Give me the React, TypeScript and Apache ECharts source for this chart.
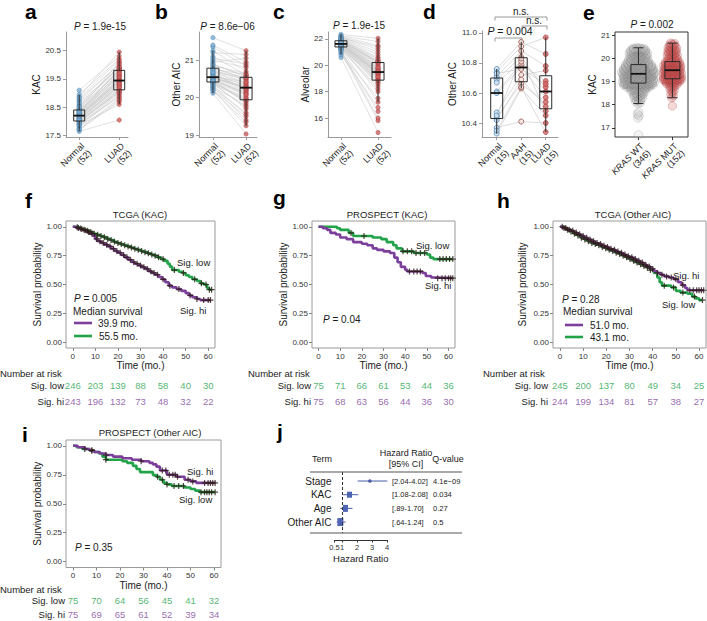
import React, { useEffect, useRef } from 'react';
import * as echarts from 'echarts';

const FONT = '"Liberation Sans", Arial, Helvetica, sans-serif';
const PURPLE = '#7d3f9c';
const GREEN = '#22a34a';
const BLUE_F = '#7cafd8';
const BLUE_S = '#41799f';
const RED_F = '#cf6262';
const RED_S = '#a33a3a';
const INK = '#1a1a1a';

// ---------------- categories / tick labels ----------------
const pairCategories = ['Normal\n(52)', 'LUAD\n(52)'];
const dCategories = ['Normal\n(15)', 'AAH\n(15)', 'LUAD\n(15)'];
const eCategories = ['{i|KRAS} WT\n(346)', '{i|KRAS} MUT\n(152)'];
const aTicks = [17.5, 18.5, 19.5, 20.5];
const bTicks = [19, 20, 21];
const cTicks = [16, 18, 20, 22];
const dTicks = [10.4, 10.6, 10.8, 11.0];
const eTicks = [17, 18, 19, 20, 21];
const kmXTicks = [0, 10, 20, 30, 40, 50, 60];
const kmYTicks = [0, 0.25, 0.5, 0.75, 1];
const riskTimes = [0, 10, 20, 30, 40, 50, 60];
const riskRows = ['Sig. low', 'Sig. hi'];
const forestTicks = [0.5, 1, 2, 3, 4];

// ---------------- panel a: KAC (paired) ----------------
const kacNormal = [18.21, 17.95, 18.42, 17.70, 18.05, 18.33, 18.88, 17.82, 18.15, 18.60, 17.98, 18.27, 18.10,
  17.65, 18.48, 18.19, 18.02, 18.36, 17.90, 18.72, 18.24, 18.08, 19.10, 18.30, 17.86, 18.55,
  18.13, 18.40, 17.76, 18.22, 18.95, 18.00, 18.17, 18.66, 17.93, 18.38, 18.26, 18.78, 18.04,
  18.20, 17.72, 18.45, 18.12, 18.32, 17.88, 18.83, 18.18, 18.52, 17.98, 18.28, 18.35, 18.06];
const kacLuad = [19.45, 19.10, 20.10, 18.70, 19.30, 19.85, 20.45, 18.95, 19.55, 19.95, 19.05, 19.60, 19.25,
  18.05, 19.75, 19.40, 19.00, 19.80, 18.85, 20.05, 19.50, 19.20, 20.30, 19.70, 18.60, 19.90,
  19.35, 19.65, 18.80, 19.42, 20.20, 19.15, 19.38, 19.88, 18.90, 19.78, 19.48, 20.00, 19.12,
  19.44, 18.75, 19.82, 19.28, 19.62, 19.02, 20.15, 19.32, 19.92, 19.08, 19.58, 19.70, 19.22];

// ---------------- panel b: Other AIC (paired) ----------------
const aicNormal = [20.52, 20.35, 21.10, 20.20, 20.45, 20.80, 21.60, 20.28, 20.60, 20.95, 20.40, 20.70, 20.48,
  20.12, 21.35, 20.55, 20.38, 20.75, 20.25, 21.40, 20.58, 20.43, 21.25, 20.65, 20.22, 20.90,
  20.50, 20.72, 20.30, 20.53, 21.20, 20.42, 20.50, 20.85, 20.32, 20.78, 20.62, 21.00, 20.46,
  20.54, 20.18, 20.88, 20.47, 20.66, 20.36, 21.05, 20.51, 20.76, 20.41, 20.56, 20.68, 20.44];
const aicLuad = [20.30, 19.95, 20.60, 19.50, 20.15, 20.50, 21.25, 19.80, 20.25, 21.05, 19.70, 20.40, 20.10,
  19.03, 20.85, 20.27, 19.98, 20.45, 19.60, 20.95, 20.35, 19.90, 20.70, 20.20, 19.25, 20.55,
  20.05, 20.48, 19.40, 20.28, 21.15, 20.00, 20.18, 20.65, 19.55, 20.52, 20.32, 20.80, 19.85,
  20.22, 19.35, 20.58, 20.12, 20.38, 19.75, 20.90, 20.26, 20.62, 19.92, 20.42, 20.54, 20.08];

// ---------------- panel c: Alveolar (paired) ----------------
const alvNormal = [21.60, 21.35, 21.90, 20.90, 21.50, 21.85, 22.35, 21.20, 21.65, 22.05, 21.30, 21.75, 21.55,
  20.60, 22.20, 21.62, 21.40, 21.88, 21.10, 22.15, 21.70, 21.45, 22.00, 21.80, 21.00, 21.95,
  21.58, 21.78, 21.25, 21.63, 22.25, 21.38, 21.52, 21.92, 21.15, 21.83, 21.68, 22.10, 21.42,
  21.61, 20.80, 21.86, 21.48, 21.72, 21.33, 22.08, 21.57, 21.98, 21.36, 21.66, 21.74, 21.47];
const alvLuad = [19.45, 18.95, 20.30, 17.50, 19.20, 20.10, 22.05, 18.40, 19.60, 20.80, 18.70, 19.90, 19.30,
  14.90, 21.50, 19.50, 18.90, 20.20, 16.50, 21.20, 19.70, 19.00, 20.60, 19.80, 15.80, 20.40,
  19.40, 20.00, 17.20, 19.48, 21.80, 18.80, 19.35, 20.25, 16.00, 20.15, 19.62, 21.00, 18.60,
  19.44, 16.80, 20.28, 19.10, 19.75, 18.20, 21.40, 19.38, 20.50, 18.00, 19.55, 19.85, 19.15];

// ---------------- panel d: Other AIC, Normal / AAH / LUAD (15 matched) ----------------
const dNormal = [10.61, 10.44, 10.74, 10.37, 10.69, 10.47, 10.76, 10.33, 10.60, 10.71, 10.42, 10.67, 10.35, 10.73, 10.45];
const dAAH = [10.79, 10.66, 10.91, 10.41, 10.84, 10.72, 10.94, 10.63, 10.77, 10.88, 10.69, 10.81, 10.64, 10.76, 10.83];
const dLUAD = [10.68, 10.54, 10.97, 10.40, 10.61, 10.75, 10.86, 10.45, 10.57, 10.78, 10.51, 10.64, 10.34, 10.66, 10.48];

// ---------------- panel e: KAC by KRAS status ----------------
const kacKrasWT = [16.70, 17.43, 17.52, 17.60, 17.68,
  18.05, 18.09, 18.13, 18.16, 18.19, 18.22, 18.24, 18.27, 18.29, 18.31,
  18.33, 18.35, 18.37, 18.39, 18.41, 18.42, 18.44, 18.46, 18.47, 18.49,
  18.50, 18.52, 18.53, 18.55, 18.56, 18.57, 18.59, 18.60, 18.61, 18.62,
  18.63, 18.64, 18.66, 18.67, 18.68, 18.69, 18.70, 18.71, 18.72, 18.73,
  18.74, 18.74, 18.75, 18.76, 18.77, 18.78, 18.78, 18.79, 18.80, 18.80,
  18.81, 18.82, 18.82, 18.83, 18.83, 18.84, 18.84, 18.85, 18.85, 18.86,
  18.86, 18.86, 18.87, 18.87, 18.87, 18.88, 18.88, 18.88, 18.89, 18.89,
  18.89, 18.90, 18.90, 18.90, 18.90, 18.90, 18.91, 18.91, 18.91, 18.92, 18.92,
  18.93, 18.93, 18.94, 18.94, 18.95, 18.95, 18.96, 18.96, 18.97, 18.97,
  18.98, 18.98, 18.99, 18.99, 19.00, 19.00, 19.00, 19.01, 19.01, 19.02,
  19.02, 19.03, 19.03, 19.04, 19.04, 19.05, 19.05, 19.06, 19.06, 19.07,
  19.07, 19.08, 19.08, 19.09, 19.09, 19.10, 19.10, 19.10, 19.11, 19.11,
  19.12, 19.12, 19.13, 19.13, 19.14, 19.14, 19.15, 19.15, 19.16, 19.16,
  19.17, 19.17, 19.18, 19.18, 19.19, 19.19, 19.20, 19.20, 19.20, 19.21,
  19.21, 19.22, 19.22, 19.23, 19.23, 19.24, 19.24, 19.25, 19.25, 19.26,
  19.26, 19.27, 19.27, 19.28, 19.28, 19.29, 19.29, 19.30, 19.30, 19.30,
  19.31, 19.31, 19.31, 19.32, 19.32, 19.32,
  19.33, 19.33, 19.34, 19.34, 19.35, 19.35, 19.35, 19.36, 19.36, 19.37,
  19.37, 19.38, 19.38, 19.38, 19.39, 19.39, 19.40, 19.40, 19.40, 19.41,
  19.41, 19.42, 19.42, 19.42, 19.43, 19.43, 19.44, 19.44, 19.45, 19.45,
  19.45, 19.46, 19.46, 19.47, 19.47, 19.48, 19.48, 19.48, 19.49, 19.49,
  19.50, 19.50, 19.50, 19.51, 19.51, 19.52, 19.52, 19.53, 19.53, 19.54,
  19.54, 19.55, 19.55, 19.56, 19.56, 19.57, 19.57, 19.58, 19.58, 19.59,
  19.59, 19.60, 19.60, 19.61, 19.61, 19.62, 19.62, 19.63, 19.63, 19.64,
  19.64, 19.65, 19.65, 19.66, 19.66, 19.67, 19.67, 19.68, 19.68, 19.69,
  19.69, 19.70, 19.70, 19.71, 19.71, 19.72, 19.72,
  19.73, 19.74, 19.74, 19.75, 19.76, 19.76, 19.77, 19.78, 19.78, 19.79,
  19.80, 19.80, 19.81, 19.82, 19.83, 19.83, 19.84, 19.85, 19.86, 19.87,
  19.87, 19.88, 19.89, 19.90, 19.91, 19.92, 19.93, 19.93, 19.94, 19.95,
  19.96, 19.97, 19.98, 19.99, 20.00, 20.01, 20.02, 20.03, 20.04, 20.05,
  20.06, 20.07, 20.08, 20.09, 20.10, 20.11, 20.12, 20.13, 20.14, 20.15,
  20.16, 20.17, 20.18, 20.19, 20.20, 20.21, 20.22, 20.23, 20.24, 20.25,
  20.26, 20.27, 20.28, 20.29, 20.30, 20.31, 20.32, 20.33, 20.34, 20.35,
  20.36, 20.37, 20.38, 20.39, 20.40, 20.41, 20.42, 20.43, 20.44, 20.45,
  20.12, 20.20, 20.28, 20.33, 20.38, 19.95, 19.85];
const kacKrasMUT = [17.95,
  18.30, 18.38, 18.45, 18.52, 18.58, 18.63, 18.68, 18.72, 18.76, 18.79,
  18.82, 18.85, 18.87, 18.89, 18.91, 18.93, 18.95, 18.96, 18.98, 18.99,
  19.00, 19.01, 19.02, 19.03, 19.04, 19.05, 19.06, 19.07, 19.07, 19.08,
  19.08, 19.09, 19.09, 19.10, 19.10, 19.10, 19.11,
  19.12, 19.13, 19.14, 19.15, 19.16, 19.17, 19.18, 19.19, 19.20, 19.21,
  19.22, 19.23, 19.24, 19.25, 19.26, 19.27, 19.28, 19.29, 19.30, 19.31,
  19.32, 19.33, 19.34, 19.35, 19.36, 19.37, 19.38, 19.39, 19.40, 19.41,
  19.42, 19.43, 19.44, 19.45, 19.46, 19.47, 19.48, 19.48,
  19.49, 19.50, 19.51, 19.52, 19.53, 19.54, 19.55, 19.56, 19.57, 19.58,
  19.59, 19.60, 19.61, 19.62, 19.63, 19.64, 19.65, 19.66, 19.67, 19.68,
  19.69, 19.70, 19.71, 19.72, 19.73, 19.74, 19.75, 19.76, 19.77, 19.78,
  19.79, 19.80, 19.81, 19.82, 19.83, 19.84, 19.85, 19.85,
  19.87, 19.89, 19.91, 19.93, 19.95, 19.97, 19.99, 20.01, 20.03, 20.05,
  20.07, 20.09, 20.11, 20.13, 20.15, 20.17, 20.19, 20.21, 20.23, 20.25,
  20.27, 20.29, 20.31, 20.33, 20.35, 20.37, 20.39, 20.41, 20.43, 20.45,
  20.47, 20.49, 20.52, 20.55, 20.58, 20.61, 20.63, 20.65];

// ---------------- Kaplan-Meier curves: [time (mo.), survival] ----------------
const fSigLow = [[0, 1], [1.5, 0.995], [3, 0.985], [4.5, 0.975], [6, 0.965], [7.5, 0.955], [9, 0.94], [10.5, 0.93], [12, 0.92], [13.5, 0.91], [15, 0.895], [16.5, 0.885], [18, 0.87], [19.5, 0.86], [21, 0.85], [22.5, 0.84], [24, 0.83], [25.5, 0.82], [27, 0.81], [28.5, 0.8], [30, 0.79], [31.5, 0.78], [33, 0.77], [34.5, 0.76], [36, 0.75], [37.5, 0.735], [39, 0.72], [40.5, 0.705], [42, 0.68], [43, 0.655], [44, 0.625], [47, 0.61], [48.5, 0.6], [50, 0.58], [51.5, 0.565], [53, 0.545], [55, 0.53], [56.5, 0.51], [58, 0.5], [59.5, 0.47], [60.5, 0.455], [61.5, 0.455]];
const fSigHi = [[0, 1], [1.5, 0.99], [3, 0.98], [4.5, 0.97], [6, 0.955], [7.5, 0.94], [9, 0.92], [10, 0.895], [11, 0.875], [12.5, 0.86], [14, 0.845], [15.5, 0.83], [17, 0.81], [18.5, 0.79], [20, 0.775], [21.5, 0.755], [23, 0.735], [24.5, 0.715], [26, 0.695], [27.5, 0.68], [29, 0.665], [30.5, 0.65], [32, 0.635], [33.5, 0.615], [35, 0.6], [36.5, 0.585], [38, 0.565], [39.5, 0.545], [41, 0.52], [42.5, 0.49], [44, 0.475], [46, 0.46], [48, 0.445], [50, 0.425], [51.5, 0.405], [53, 0.39], [55, 0.375], [56.5, 0.365], [61, 0.365]];
const fSigLowCensor = [2, 3.5, 5, 6.5, 8, 9.5, 11, 12.5, 14, 15.5, 17, 18.5, 20, 21.5, 23, 24.5, 26, 27.5, 29, 30.5, 32, 33.5, 35, 36.5, 38, 40, 45, 49, 54, 57, 59, 60.5, 61.5];
const fSigHiCensor = [2.5, 4, 5.5, 7, 8.5, 10.5, 12, 13.5, 15, 16.5, 18, 19.5, 21, 22.5, 24, 25.5, 27, 28.5, 30, 31.5, 33, 34.5, 36, 37.5, 40, 43, 47, 52, 55, 58, 60, 61];
const fRiskLow = [246, 203, 139, 88, 58, 40, 30];
const fRiskHi = [243, 196, 132, 73, 48, 32, 22];

const gSigLow = [[0, 1], [8.5, 0.987], [10, 0.973], [14, 0.947], [16, 0.92], [25, 0.907], [29, 0.893], [31.5, 0.867], [34.5, 0.84], [36, 0.813], [38.5, 0.787], [44, 0.773], [50, 0.76], [51.5, 0.733], [53, 0.72], [62, 0.72]];
const gSigHi = [[0, 1], [2, 0.987], [4, 0.973], [5.5, 0.947], [8, 0.933], [10, 0.907], [13, 0.893], [16, 0.867], [20, 0.853], [22.5, 0.84], [25, 0.813], [27, 0.8], [30, 0.787], [33, 0.773], [35, 0.733], [36.5, 0.693], [38, 0.653], [40, 0.627], [41, 0.613], [48, 0.6], [49.5, 0.573], [52, 0.56], [54, 0.555], [62, 0.555]];
const gSigLowCensor = [15, 21, 39, 41, 43, 45, 47, 49, 56, 57.5, 59, 60.5, 62];
const gSigHiCensor = [42, 44, 45.5, 47, 55, 57, 58.5, 60, 61, 62];
const gRiskLow = [75, 71, 66, 61, 53, 44, 36];
const gRiskHi = [75, 68, 63, 56, 44, 36, 30];

const hSigLow = [[0, 1], [1.5, 0.99], [3, 0.975], [4.5, 0.96], [6, 0.94], [7.5, 0.925], [9, 0.905], [10.5, 0.89], [12, 0.875], [13.5, 0.86], [15, 0.85], [16.5, 0.84], [18, 0.825], [19.5, 0.815], [21, 0.8], [22.5, 0.79], [24, 0.775], [25.5, 0.765], [27, 0.75], [28.5, 0.735], [30, 0.72], [31.5, 0.705], [33, 0.69], [34.5, 0.675], [36, 0.66], [37.5, 0.645], [39, 0.625], [40.5, 0.6], [42, 0.56], [43, 0.52], [44, 0.49], [48, 0.475], [50, 0.445], [52, 0.43], [55, 0.42], [57, 0.395], [58.5, 0.38], [60, 0.365], [61.5, 0.365]];
const hSigHi = [[0, 1], [1.5, 0.99], [3, 0.975], [4.5, 0.965], [6, 0.95], [7.5, 0.935], [9, 0.92], [10.5, 0.905], [12, 0.89], [13.5, 0.875], [15, 0.86], [16.5, 0.85], [18, 0.835], [19.5, 0.825], [21, 0.81], [22.5, 0.8], [24, 0.785], [25.5, 0.775], [27, 0.76], [28.5, 0.745], [30, 0.735], [31.5, 0.72], [33, 0.705], [34.5, 0.69], [36, 0.67], [37.5, 0.655], [39, 0.635], [40.5, 0.615], [42, 0.6], [43.5, 0.585], [45, 0.57], [47, 0.56], [49, 0.545], [51, 0.52], [52.5, 0.495], [54, 0.47], [55, 0.45], [62, 0.45]];
const hSigLowCensor = [1.75, 3.25, 4.75, 6.25, 7.75, 9.25, 10.75, 12.25, 13.75, 15.25, 16.75, 18.25, 19.75, 21.25, 22.75, 24.25, 25.75, 27.25, 28.75, 30.25, 31.75, 33.25, 34.75, 36.25, 37.75, 39, 45, 49, 53, 58, 61.5];
const hSigHiCensor = [1, 2.5, 4, 5.5, 7, 8.5, 10, 11.5, 13, 14.5, 16, 17.5, 19, 20.5, 22, 23.5, 25, 26.5, 28, 29.5, 31, 32.5, 34, 35.5, 37, 38.5, 40, 42, 44, 46, 48, 50, 53, 56, 57.5, 59, 60, 61, 62];
const hRiskLow = [245, 200, 137, 80, 49, 34, 25];
const hRiskHi = [244, 199, 134, 81, 57, 38, 27];

const iSigLow = [[0, 1], [1.5, 0.987], [4, 0.973], [7, 0.96], [9, 0.947], [11, 0.933], [12.5, 0.907], [14, 0.88], [21, 0.867], [23, 0.853], [25.5, 0.827], [27, 0.8], [28.5, 0.773], [34, 0.747], [35.5, 0.733], [37, 0.707], [38.5, 0.68], [40, 0.667], [42, 0.653], [47.5, 0.64], [50, 0.627], [52, 0.613], [54, 0.6], [60.5, 0.6]];
const iSigHi = [[0, 1], [2, 0.987], [5, 0.973], [7, 0.96], [9, 0.947], [11.5, 0.933], [14, 0.92], [17, 0.907], [21, 0.893], [25, 0.88], [29, 0.867], [32.5, 0.853], [34, 0.84], [35.5, 0.82], [37, 0.787], [40, 0.75], [44, 0.733], [47.5, 0.707], [50, 0.693], [52.5, 0.68], [60.5, 0.68]];
const iSigLowCensor = [8, 14, 36, 38, 40, 43, 45, 47, 54.5, 56, 57, 58, 59, 60.5];
const iSigHiCensor = [5, 8, 14, 29, 38, 39.5, 41, 42.5, 43.5, 44.5, 49, 51, 56, 57.5, 58.5, 59.5, 60.5];
const iRiskLow = [75, 70, 64, 56, 45, 41, 32];
const iRiskHi = [75, 69, 65, 61, 52, 39, 34];

// ---------------- panel j: forest plot ----------------
const forestTerms = ['Stage', 'KAC', 'Age', 'Other AIC'];
const forestHR = [2.86, 1.5, 1.23, 0.89];
const forestLo = [2.04, 1.08, 0.89, 0.64];
const forestHi = [4.02, 2.08, 1.70, 1.24];
const forestCI = ['[2.04-4.02]', '[1.08-2.08]', '[.89-1.70]', '[.64-1.24]'];
const forestQ = ['4.1e\u221209', '0.034', '0.27', '0.5'];

// ---------------- helpers ----------------
function quantile(s: number[], p: number) {
  const h = (s.length - 1) * p;
  const lo = Math.floor(h);
  const hi = Math.min(lo + 1, s.length - 1);
  return s[lo] + (h - lo) * (s[hi] - s[lo]);
}
function boxStats(vals: number[]) {
  const s = [...vals].sort((a, b) => a - b);
  const q1 = quantile(s, 0.25), med = quantile(s, 0.5), q3 = quantile(s, 0.75);
  const iqr = q3 - q1;
  const lo = s.find((v) => v >= q1 - 1.5 * iqr) as number;
  const hi = [...s].reverse().find((v) => v <= q3 + 1.5 * iqr) as number;
  return [lo, q1, med, q3, hi];
}
function vdc(n: number) {
  let v = 0, d = 1;
  while (n > 0) { d *= 2; v += (n % 2) / d; n = Math.floor(n / 2); }
  return v;
}
function swarm(vals: number[], center: number, half: number) {
  const s = [...vals].sort((a, b) => a - b);
  const dens = s.map((v) => s.filter((u) => Math.abs(u - v) < 0.15).length);
  const maxD = Math.max(...dens);
  return s.map((v, k) => [center + half * Math.pow(dens[k] / maxD, 0.8) * (2 * vdc(k + 1) - 1), v]);
}
function survAt(ev: number[][], t: number) {
  let s = 1;
  for (const [tt, ss] of ev) { if (tt <= t) s = ss; else break; }
  return s;
}
const PLUS = 'path://M4,0H6V4H10V6H6V10H4V6H0V4H4Z';

function T(x: number, y: number, text: string, o: any = {}) {
  const size = o.size ?? 9.5;
  return {
    type: 'text', x, y, silent: true, z: 100,
    style: {
      text, fontFamily: FONT, fontSize: size, fontWeight: o.weight ?? 'normal',
      fill: o.color ?? INK, align: o.align ?? 'left', verticalAlign: 'middle',
      textAlign: o.align ?? 'left', textVerticalAlign: 'middle',
      rich: { i: { fontStyle: 'italic', fontSize: size, fontFamily: FONT, fill: o.color ?? INK } },
    },
  };
}
function L(x1: number, y1: number, x2: number, y2: number, stroke = '#9a9a9a', w = 1) {
  return { type: 'line', silent: true, z: 100, shape: { x1, y1, x2, y2 }, style: { stroke, lineWidth: w } };
}

function buildOption() {
  const grids: any[] = [];
  const xAxes: any[] = [];
  const yAxes: any[] = [];
  const series: any[] = [];
  const graphic: any[] = [];

  const axisGrey = '#9a9a9a';
  const catLabelStyle = {
    rotate: 45, align: 'right', verticalAlign: 'top', fontSize: 9, color: '#222', fontFamily: FONT, margin: 4, lineHeight: 10,
    rich: { i: { fontStyle: 'italic', fontSize: 9, color: '#222', fontFamily: FONT } },
  };

  // ---------- dot/box panels a-e ----------
  function dotAxes(gi: number, box: number[], xr: number[], cats: string[], yr: number[], yticks: number[], dec: number, yname: string, ygap: number, framed: boolean, showCats = true) {
    grids[gi] = { left: box[0], top: box[1], width: box[2], height: box[3], show: framed, borderColor: '#333', borderWidth: 1, backgroundColor: 'transparent' };
    const xt = cats.map((_, i) => i + 1);
    const tickCol = framed ? '#333' : axisGrey;
    xAxes[gi] = {
      gridIndex: gi, type: 'value', min: xr[0], max: xr[1], splitLine: { show: false },
      axisLine: { show: !framed, onZero: false, lineStyle: { color: axisGrey } },
      axisTick: { show: true, customValues: xt, length: 3, lineStyle: { color: tickCol } },
      axisLabel: {
        show: showCats, customValues: xt, formatter: (v: number) => cats[Math.round(v) - 1] ?? '',
        showMinLabel: true, showMaxLabel: true, ...catLabelStyle,
      },
    };
    yAxes[gi] = {
      gridIndex: gi, type: 'value', min: yr[0], max: yr[1], splitLine: { show: false },
      axisLine: { show: !framed, onZero: false, lineStyle: { color: axisGrey } },
      axisTick: { show: true, customValues: yticks, length: 3, lineStyle: { color: tickCol } },
      axisLabel: { customValues: yticks, showMinLabel: true, showMaxLabel: true, formatter: (v: number) => v.toFixed(dec), fontSize: 8, color: '#333', fontFamily: FONT, margin: 5 },
      name: yname, nameLocation: 'middle', nameGap: ygap, nameTextStyle: { fontSize: 10, color: INK, fontFamily: FONT },
    };
  }

  function boxRender(halfW: number, capW: number) {
    return (params: any, api: any) => {
      const x = api.value(0);
      const pMin = api.coord([x, api.value(1)]);
      const pQ1 = api.coord([x, api.value(2)]);
      const pMed = api.coord([x, api.value(3)]);
      const pQ3 = api.coord([x, api.value(4)]);
      const pMax = api.coord([x, api.value(5)]);
      const cx = pMed[0];
      const st = { stroke: '#2a2a2a', lineWidth: 1 };
      const children: any[] = [
        { type: 'line', shape: { x1: cx, y1: pMax[1], x2: cx, y2: pQ3[1] }, style: st },
        { type: 'line', shape: { x1: cx, y1: pQ1[1], x2: cx, y2: pMin[1] }, style: st },
        { type: 'rect', shape: { x: cx - halfW, y: pQ3[1], width: 2 * halfW, height: pQ1[1] - pQ3[1] }, style: { fill: 'transparent', stroke: '#2a2a2a', lineWidth: 1 } },
        { type: 'line', shape: { x1: cx - halfW, y1: pMed[1], x2: cx + halfW, y2: pMed[1] }, style: { stroke: '#111', lineWidth: 1.8 } },
      ];
      if (capW > 0) {
        children.push({ type: 'line', shape: { x1: cx - capW, y1: pMax[1], x2: cx + capW, y2: pMax[1] }, style: st });
        children.push({ type: 'line', shape: { x1: cx - capW, y1: pMin[1], x2: cx + capW, y2: pMin[1] }, style: st });
      }
      return { type: 'group', children };
    };
  }

  function pairPanel(gi: number, normal: number[], luad: number[], halfW: number) {
    series.push({
      type: 'custom', xAxisIndex: gi, yAxisIndex: gi, silent: true, z: 1,
      data: normal.map((v, i) => [v, luad[i]]),
      renderItem: (params: any, api: any) => {
        const p1 = api.coord([1, api.value(0)]);
        const p2 = api.coord([2, api.value(1)]);
        return { type: 'line', shape: { x1: p1[0], y1: p1[1], x2: p2[0], y2: p2[1] }, style: { stroke: '#cdcdcd', lineWidth: 0.6 } };
      },
    });
    series.push({ type: 'scatter', xAxisIndex: gi, yAxisIndex: gi, silent: true, z: 2, symbolSize: 4.3, data: normal.map((v) => [1, v]), itemStyle: { color: BLUE_F, borderColor: BLUE_S, borderWidth: 0.6 } });
    series.push({ type: 'scatter', xAxisIndex: gi, yAxisIndex: gi, silent: true, z: 2, symbolSize: 4.3, data: luad.map((v) => [2, v]), itemStyle: { color: RED_F, borderColor: RED_S, borderWidth: 0.6 } });
    series.push({ type: 'custom', xAxisIndex: gi, yAxisIndex: gi, silent: true, z: 3, data: [[1, ...boxStats(normal)], [2, ...boxStats(luad)]], renderItem: boxRender(halfW, 0) });
  }

  dotAxes(0, [66, 32, 62, 105], [0.67, 2.22], pairCategories, [17.45, 21.16], aTicks, 1, 'KAC', 20, false);
  pairPanel(0, kacNormal, kacLuad, 5.5);
  dotAxes(1, [199, 32, 58, 105], [0.58, 2.33], pairCategories, [18.95, 21.75], bTicks, 0, 'Other AIC', 17, false);
  pairPanel(1, aicNormal, aicLuad, 6);
  dotAxes(2, [328, 32, 63, 105], [0.65, 2.35], pairCategories, [14.56, 22.53], cTicks, 0, 'Alveolar', 16.5, false);
  pairPanel(2, alvNormal, alvLuad, 6);

  // panel d (its category labels come from a companion category axis so all three show)
  dotAxes(3, [482, 31, 76, 106], [0.4, 3.5], dCategories, [10.307, 11.013], dTicks, 1, 'Other AIC', 23, false, false);
  grids[14] = { left: 484.45, top: 31, width: 73.5, height: 106, show: false };
  xAxes[14] = {
    gridIndex: 14, type: 'category', data: dCategories, boundaryGap: true,
    axisLine: { show: false }, axisTick: { show: false }, splitLine: { show: false },
    axisLabel: { interval: 0, ...catLabelStyle },
  };
  yAxes[16] = { gridIndex: 14, type: 'value', show: false, min: 0, max: 1, splitLine: { show: false } };

  series.push({
    type: 'custom', xAxisIndex: 3, yAxisIndex: 3, silent: true, z: 1,
    data: dNormal.map((v, i) => [v, dAAH[i], dLUAD[i]]),
    renderItem: (params: any, api: any) => {
      const pts = [0, 1, 2].map((k) => api.coord([k + 1, api.value(k)]));
      return { type: 'polyline', shape: { points: pts }, style: { stroke: '#cdcdcd', lineWidth: 0.7, fill: 'none' } };
    },
  });
  series.push({ type: 'scatter', xAxisIndex: 3, yAxisIndex: 3, silent: true, z: 2, symbolSize: 5, data: dNormal.map((v) => [1, v]), itemStyle: { color: '#cfe1f0', borderColor: '#4a7fae', borderWidth: 1 } });
  series.push({ type: 'scatter', xAxisIndex: 3, yAxisIndex: 3, silent: true, z: 2, symbolSize: 5, data: dAAH.map((v) => [2, v]), itemStyle: { color: '#f3e2df', borderColor: '#8e4a44', borderWidth: 1 } });
  series.push({ type: 'scatter', xAxisIndex: 3, yAxisIndex: 3, silent: true, z: 2, symbolSize: 5, data: dLUAD.map((v) => [3, v]), itemStyle: { color: RED_F, borderColor: RED_S, borderWidth: 0.8 } });
  series.push({ type: 'custom', xAxisIndex: 3, yAxisIndex: 3, silent: true, z: 3, data: [[1, ...boxStats(dNormal)], [2, ...boxStats(dAAH)], [3, ...boxStats(dLUAD)]], renderItem: boxRender(6, 0) });

  // panel e
  dotAxes(4, [615, 32, 73, 105], [0.31, 2.46], eCategories, [16.61, 21.13], eTicks, 0, 'KAC', 13, true);
  series.push({ type: 'scatter', xAxisIndex: 4, yAxisIndex: 4, silent: true, z: 2, symbolSize: 8.5, data: swarm(kacKrasWT, 1, 0.5), itemStyle: { color: 'rgba(195,195,195,0.22)', borderColor: 'rgba(95,95,95,0.42)', borderWidth: 0.6 } });
  series.push({ type: 'scatter', xAxisIndex: 4, yAxisIndex: 4, silent: true, z: 2, symbolSize: 8.5, data: swarm(kacKrasMUT, 2, 0.3), itemStyle: { color: 'rgba(210,95,95,0.3)', borderColor: 'rgba(155,45,45,0.5)', borderWidth: 0.6 } });
  series.push({ type: 'custom', xAxisIndex: 4, yAxisIndex: 4, silent: true, z: 3, data: [[1, ...boxStats(kacKrasWT)], [2, ...boxStats(kacKrasMUT)]], renderItem: boxRender(7.5, 5) });

  // ---------- Kaplan-Meier panels f-i ----------
  const kmPanels = [
    { gi: 5, rgi: 9, box: [66, 221, 149, 127], rbox: [66, 377, 149, 32], low: fSigLow, hi: fSigHi, lowC: fSigLowCensor, hiC: fSigHiCensor, rl: fRiskLow, rh: fRiskHi, ygap: 23.5, xgap: 11, rm: 2 },
    { gi: 6, rgi: 10, box: [312, 221, 143, 127], rbox: [312, 377, 143, 32], low: gSigLow, hi: gSigHi, lowC: gSigLowCensor, hiC: gSigHiCensor, rl: gRiskLow, rh: gRiskHi, ygap: 22, xgap: 11, rm: 1 },
    { gi: 7, rgi: 11, box: [553, 221, 153, 127], rbox: [553, 377, 153, 32], low: hSigLow, hi: hSigHi, lowC: hSigLowCensor, hiC: hSigHiCensor, rl: hRiskLow, rh: hRiskHi, ygap: 26, xgap: 11, rm: 5 },
    { gi: 8, rgi: 12, box: [66, 440, 155, 127.5], rbox: [66, 594, 155, 27], low: iSigLow, hi: iSigHi, lowC: iSigLowCensor, hiC: iSigHiCensor, rl: iRiskLow, rh: iRiskHi, ygap: 23, xgap: 10, rm: 1 },
  ];
  for (const p of kmPanels) {
    grids[p.gi] = { left: p.box[0], top: p.box[1], width: p.box[2], height: p.box[3], show: true, borderColor: '#9a9a9a', borderWidth: 1, backgroundColor: 'transparent' };
    xAxes[p.gi] = {
      gridIndex: p.gi, type: 'value', min: -3, max: 63, splitLine: { show: false },
      axisLine: { show: false, onZero: false },
      axisTick: { show: true, customValues: kmXTicks, length: 3, lineStyle: { color: '#888' } },
      axisLabel: { customValues: kmXTicks, showMinLabel: true, showMaxLabel: true, fontSize: 8, color: '#333', fontFamily: FONT, margin: 4 },
      name: 'Time (mo.)', nameLocation: 'middle', nameGap: p.xgap, nameTextStyle: { fontSize: 10, color: INK, fontFamily: FONT },
    };
    yAxes[p.gi] = {
      gridIndex: p.gi, type: 'value', min: -0.05, max: 1.05, splitLine: { show: false },
      axisLine: { show: false, onZero: false },
      axisTick: { show: true, customValues: kmYTicks, length: 3, lineStyle: { color: '#888' } },
      axisLabel: { customValues: kmYTicks, showMinLabel: true, showMaxLabel: true, formatter: (v: number) => v.toFixed(2), fontSize: 8, color: '#333', fontFamily: FONT, margin: 4 },
      name: 'Survival probability', nameLocation: 'middle', nameGap: p.ygap, nameTextStyle: { fontSize: 10, color: INK, fontFamily: FONT },
    };
    const curves = [[p.low, p.lowC, GREEN], [p.hi, p.hiC, PURPLE]] as any[];
    for (const [ev, cens, col] of curves) {
      series.push({ type: 'line', xAxisIndex: p.gi, yAxisIndex: p.gi, silent: true, z: 2, data: ev, step: 'end', symbol: 'none', showSymbol: false, lineStyle: { color: col, width: 2.6 } });
    }
    for (const [ev, cens] of curves) {
      series.push({ type: 'scatter', xAxisIndex: p.gi, yAxisIndex: p.gi, silent: true, z: 3, symbol: PLUS, symbolSize: 6, data: (cens as number[]).map((t) => [t, survAt(ev, t)]), itemStyle: { color: '#2b1a14' } });
    }
    // risk table
    grids[p.rgi] = { left: p.rbox[0], top: p.rbox[1], width: p.rbox[2], height: p.rbox[3], show: false };
    xAxes[p.rgi] = { gridIndex: p.rgi, type: 'value', min: -3, max: 63, show: false, axisLine: { onZero: false }, splitLine: { show: false } };
    yAxes[p.rgi] = {
      gridIndex: p.rgi, type: 'value', min: -0.5, max: 1.5, inverse: true, splitLine: { show: false },
      axisLine: { show: false, onZero: false }, axisTick: { show: false },
      axisLabel: { customValues: [0, 1], showMinLabel: true, showMaxLabel: true, formatter: (v: number) => riskRows[Math.round(v)] ?? '', fontSize: 9.5, color: INK, fontFamily: FONT, margin: p.rm },
    };
    [p.rl, p.rh].forEach((arr: number[], r: number) => {
      series.push({
        type: 'scatter', xAxisIndex: p.rgi, yAxisIndex: p.rgi, silent: true, symbolSize: 1, itemStyle: { color: 'rgba(0,0,0,0)' },
        data: riskTimes.map((t, k) => [t, r, arr[k]]),
        label: { show: true, position: 'inside', formatter: (q: any) => String(q.data[2]), color: r === 0 ? GREEN : PURPLE, fontSize: 9.5, fontFamily: FONT },
      });
    });
  }

  // ---------- panel j: forest ----------
  grids[13] = { left: 334.5, top: 472, width: 52.5, height: 61, show: false };
  xAxes[13] = {
    gridIndex: 13, type: 'value', min: 0.5, max: 4, offset: 7, splitLine: { show: false },
    axisLine: { show: true, onZero: false, lineStyle: { color: '#333' } },
    axisTick: { show: true, customValues: forestTicks, length: 2.5, lineStyle: { color: '#333' } },
    axisLabel: { customValues: forestTicks, showMinLabel: true, showMaxLabel: true, formatter: (v: number) => String(v), fontSize: 7.5, color: '#333', fontFamily: FONT, margin: 3 },
    name: 'Hazard Ratio', nameLocation: 'middle', nameGap: 13, nameTextStyle: { fontSize: 9.5, color: INK, fontFamily: FONT },
  };
  const rowAxis = (fmt: string[], extra: any) => ({
    gridIndex: 13, type: 'value', min: -0.66, max: 3.8, inverse: true, splitLine: { show: false },
    axisLine: { show: false, onZero: false }, axisTick: { show: false }, ...extra,
    axisLabel: { customValues: [0, 1, 2, 3], showMinLabel: true, showMaxLabel: true, formatter: (v: number) => fmt[Math.round(v)] ?? '', fontFamily: FONT, ...extra.axisLabel },
  });
  yAxes[13] = rowAxis(forestTerms, { axisLabel: { fontSize: 10, color: INK, margin: 3 } });
  yAxes[14] = rowAxis(forestCI, { position: 'right', offset: 0, axisLabel: { fontSize: 7.5, color: '#222', margin: 5 } });
  yAxes[15] = rowAxis(forestQ, { position: 'right', offset: 41, axisLabel: { fontSize: 7.5, color: '#222', margin: 5 } });
  const forestMarker = [[0, 0], [5, 6], [5, 7], [6, 8]];
  series.push({
    type: 'custom', xAxisIndex: 13, yAxisIndex: 13, silent: true, z: 3,
    data: forestTerms.map((_, k) => [forestLo[k], forestHR[k], forestHi[k], k]),
    renderItem: (params: any, api: any) => {
      const k = api.value(3);
      const pLo = api.coord([api.value(0), k]);
      const pHi = api.coord([api.value(2), k]);
      const pC = api.coord([api.value(1), k]);
      const [w, h] = forestMarker[params.dataIndex];
      const children: any[] = [{ type: 'line', shape: { x1: pLo[0], y1: pLo[1], x2: pHi[0], y2: pHi[1] }, style: { stroke: '#4a5ea8', lineWidth: 1 } }];
      if (w === 0) children.push({ type: 'circle', shape: { cx: pC[0], cy: pC[1], r: 1.8 }, style: { fill: '#4a5ea8' } });
      else children.push({ type: 'rect', shape: { x: pC[0] - w / 2, y: pC[1] - h / 2, width: w, height: h }, style: { fill: '#4f63b5' } });
      return { type: 'group', children };
    },
    markLine: { silent: true, symbol: 'none', label: { show: false }, lineStyle: { type: [3, 2], color: '#333', width: 1 }, data: [{ xAxis: 1 }] },
  });

  // ---------- annotations ----------
  const letters: [string, number, number][] = [['a', 25, 11.2], ['b', 155, 11.0], ['c', 273, 11.2], ['d', 423, 11.2], ['e', 583, 12.8], ['f', 25, 200.8], ['g', 273, 197.8], ['h', 497, 200.8], ['i', 22, 434.8], ['j', 277, 431.3]];
  letters.forEach(([t, x, y]) => graphic.push(T(x, y, t, { size: 21, weight: 'bold', color: '#000' })));

  graphic.push(T(100, 26, '{i|P} = 1.9e-15', { align: 'center', size: 10 }));
  graphic.push(T(227.5, 26, '{i|P} = 8.6e\u221206', { align: 'center', size: 10 }));
  graphic.push(T(359, 25, '{i|P} = 1.9e-15', { align: 'center', size: 10 }));
  graphic.push(T(652, 24, '{i|P} = 0.002', { align: 'center', size: 10 }));
  // panel d brackets
  graphic.push(T(521, 11.5, 'n.s.', { align: 'center', size: 10 }));
  graphic.push(L(495, 17, 547, 17), L(495, 17, 495, 20.5), L(547, 17, 547, 20.5));
  graphic.push(T(534, 20.5, 'n.s.', { align: 'center', size: 10 }));
  graphic.push(L(522, 26, 547, 26), L(522, 26, 522, 29.5), L(547, 26, 547, 29.5));
  graphic.push(T(510, 31, '{i|P} = 0.004', { align: 'center', size: 10.5 }));
  graphic.push(L(495, 38, 522, 38), L(495, 38, 495, 41.5), L(522, 38, 522, 41.5));

  // KM titles
  graphic.push(T(140, 214, 'TCGA (KAC)', { align: 'center' }));
  graphic.push(T(387, 214, 'PROSPECT (KAC)', { align: 'center' }));
  graphic.push(T(633, 214, 'TCGA (Other AIC)', { align: 'center' }));
  graphic.push(T(150, 432, 'PROSPECT (Other AIC)', { align: 'center' }));
  // f
  graphic.push(T(177, 262, 'Sig. low'), T(180, 310, 'Sig. hi'));
  graphic.push(T(74, 298, '{i|P} = 0.005', { size: 10 }), T(73, 311, 'Median survival', { size: 10 }));
  graphic.push(L(74, 323, 92, 323, PURPLE, 2.6), T(98, 323, '39.9 mo.', { size: 10 }));
  graphic.push(L(74, 336, 92, 336, GREEN, 2.6), T(99, 336, '55.5 mo.', { size: 10 }));
  // g
  graphic.push(T(416, 245, 'Sig. low'), T(425, 285, 'Sig. hi'), T(323, 319, '{i|P} = 0.04', { size: 10 }));
  // h
  graphic.push(T(673, 275, 'Sig. hi'), T(662, 304, 'Sig. low'));
  graphic.push(T(562, 299, '{i|P} = 0.28', { size: 10 }), T(563, 311, 'Median survival', { size: 10 }));
  graphic.push(L(565, 325, 583, 325, PURPLE, 2.6), T(590, 325, '51.0 mo.', { size: 10 }));
  graphic.push(L(565, 337, 583, 337, GREEN, 2.6), T(590, 337, '43.1 mo.', { size: 10 }));
  // i
  graphic.push(T(187, 471, 'Sig. hi'), T(179, 499, 'Sig. low'), T(75, 547, '{i|P} = 0.35', { size: 10 }));
  // number at risk
  graphic.push(T(0, 373, 'Number at risk'), T(248, 373, 'Number at risk'), T(483, 373, 'Number at risk'), T(0, 589, 'Number at risk'));
  // j table
  graphic.push(T(322, 459, 'Term', { align: 'center', size: 9 }));
  graphic.push(T(406, 453, 'Hazard Ratio', { align: 'center', size: 9 }));
  graphic.push(T(406, 464, '[95% CI]', { align: 'center', size: 9 }));
  graphic.push(T(448, 459, 'Q-value', { align: 'center', size: 9 }));
  graphic.push(L(310, 472, 462, 472, '#555', 1), L(310, 533, 462, 533, '#555', 1));

  return {
    animation: false,
    backgroundColor: '#ffffff',
    textStyle: { fontFamily: FONT },
    grid: grids,
    xAxis: xAxes,
    yAxis: yAxes,
    series,
    graphic: { elements: graphic },
  };
}

export default function App() {
  const ref = useRef<HTMLDivElement>(null);
  useEffect(() => {
    if (!ref.current) return;
    const chart = echarts.init(ref.current, null, { renderer: 'svg' });
    chart.setOption(buildOption() as any);
    return () => chart.dispose();
  }, []);
  return <div ref={ref} style={{ position: 'absolute', left: 0, top: 0, width: 707, height: 621, background: '#ffffff' }} />;
}
